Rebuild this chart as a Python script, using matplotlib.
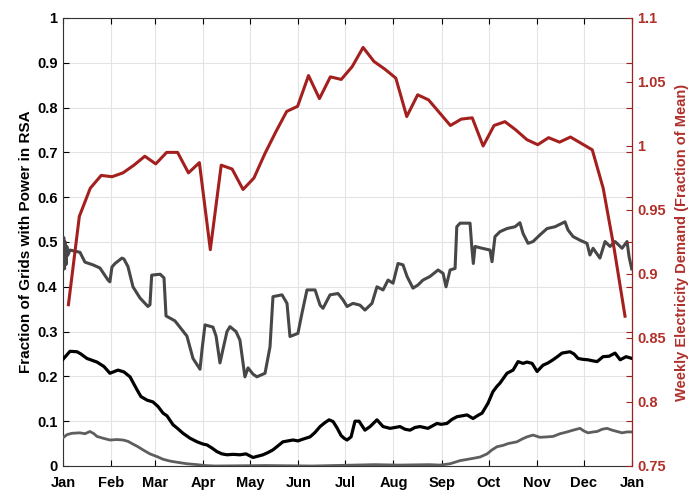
import matplotlib
matplotlib.use("Agg")
import matplotlib.pyplot as plt
import numpy as np

plt.rcParams['font.family'] = ['Liberation Sans', 'DejaVu Sans']
plt.rcParams['font.weight'] = 'bold'

# ---- month axis ----
month_days = [0, 31, 59, 90, 120, 151, 181, 212, 243, 273, 304, 334, 365]
month_labels = ['Jan', 'Feb', 'Mar', 'Apr', 'May', 'Jun', 'Jul', 'Aug', 'Sep', 'Oct', 'Nov', 'Dec', 'Jan']

# ---- weekly electricity demand (right axis), one value per week ----
demand_week = list(range(52))
demand = [0.876, 0.945, 0.967, 0.977, 0.976, 0.979, 0.985, 0.992, 0.986, 0.995,
          0.995, 0.979, 0.987, 0.919, 0.985, 0.982, 0.966, 0.975, 0.994, 1.011,
          1.027, 1.031, 1.055, 1.037, 1.054, 1.052, 1.062, 1.077, 1.066, 1.060,
          1.053, 1.023, 1.040, 1.036, 1.026, 1.016, 1.021, 1.022, 1.000, 1.016,
          1.019, 1.0125, 1.005, 1.001, 1.0065, 1.003, 1.007, 1.002, 0.997, 0.967,
          0.920, 0.867]

# ---- fraction of grids with power (left axis) ----
upper_day = [0.0, 0.5, 1.0, 1.5, 2.0, 2.5, 3.0, 4.5, 10.9, 14.1, 19.2, 23.7, 28.9, 30.1,
             31.4, 33.4, 37.8, 39.1, 41.7, 44.9, 49.4, 54.5, 55.8, 56.9, 62.3, 64.8,
             66.1, 71.8, 79.5, 83.4, 87.9, 89.2, 91.1, 96.2, 98.2, 100.7, 102.6, 105.2,
             107.1, 111.0, 113.5, 116.7, 118.7, 121.9, 124.4, 129.6, 132.8, 134.7,
             140.5, 143.7, 145.6, 150.7, 153.3, 156.5, 161.7, 164.9, 166.8, 171.3,
             176.4, 179.6, 182.2, 186.0, 190.5, 193.7, 198.2, 201.4, 205.3, 208.5,
             211.7, 214.9, 218.1, 220.7, 224.5, 227.7, 230.9, 235.4, 240.6, 243.8,
             245.7, 248.3, 251.5, 252.6, 254.7, 261.1, 262.2, 263.2, 264.3, 268.8,
             273.9, 275.2, 277.1, 280.3, 284.8, 289.9, 293.1, 295.1, 298.3, 301.5,
             306.0, 310.5, 315.6, 322.0, 323.9, 327.2, 331.6, 336.1, 338.0, 340.0,
             344.4, 347.7, 350.9, 354.1, 358.6, 361.8, 363.1, 364.8]
upper = [0.46, 0.51, 0.44, 0.50, 0.45, 0.49, 0.47, 0.482, 0.477, 0.455, 0.449, 0.442,
         0.415, 0.411, 0.444, 0.452, 0.464, 0.462, 0.445, 0.400, 0.375, 0.356, 0.360,
         0.426, 0.428, 0.420, 0.335, 0.324, 0.290, 0.240, 0.216, 0.260, 0.315, 0.310,
         0.290, 0.230, 0.260, 0.300, 0.311, 0.300, 0.281, 0.199, 0.219, 0.205, 0.199,
         0.207, 0.266, 0.378, 0.382, 0.363, 0.289, 0.296, 0.341, 0.393, 0.393, 0.359,
         0.352, 0.382, 0.385, 0.371, 0.356, 0.363, 0.359, 0.348, 0.363, 0.400, 0.393,
         0.415, 0.408, 0.452, 0.449, 0.423, 0.397, 0.404, 0.415, 0.423, 0.4375, 0.430,
         0.400, 0.4375, 0.441, 0.534, 0.542, 0.542, 0.490, 0.452, 0.490, 0.486, 0.482,
         0.456, 0.512, 0.523, 0.530, 0.534, 0.543, 0.519, 0.497, 0.501, 0.516, 0.530,
         0.534, 0.545, 0.527, 0.512, 0.504, 0.497, 0.471, 0.486, 0.464, 0.501, 0.490,
         0.501, 0.486, 0.501, 0.467, 0.440]

middle_day = [0.0, 4.5, 9.0, 11.5, 15.4, 21.8, 26.3, 30.1, 35.3, 39.1, 43.0, 47.5, 50.0,
              53.9, 57.7, 60.9, 64.2, 66.7, 70.6, 73.1, 77.0, 81.5, 86.0, 89.8, 92.4,
              95.6, 98.8, 102.0, 105.2, 109.1, 113.5, 117.4, 121.9, 125.1, 128.3, 131.5,
              134.7, 137.9, 141.1, 144.3, 147.6, 150.7, 154.0, 158.5, 161.7, 164.9,
              168.1, 170.7, 173.3, 175.8, 178.4, 180.3, 182.2, 184.8, 187.3, 189.9,
              193.7, 197.0, 201.4, 205.3, 209.8, 213.0, 216.2, 219.4, 222.6, 225.8,
              229.0, 234.1, 239.9, 242.5, 246.3, 249.5, 252.7, 256.0, 259.2, 263.0,
              266.2, 268.8, 272.6, 275.8, 278.4, 280.3, 284.8, 288.7, 291.9, 295.1,
              297.6, 300.9, 304.1, 307.9, 311.1, 314.3, 317.5, 320.1, 325.2, 327.8,
              330.4, 333.6, 336.8, 339.4, 342.6, 346.4, 350.3, 354.1, 357.4, 361.2, 365.0]
middle = [0.238, 0.256, 0.255, 0.250, 0.240, 0.232, 0.222, 0.207, 0.214, 0.210, 0.199,
          0.170, 0.155, 0.147, 0.143, 0.133, 0.118, 0.112, 0.092, 0.085, 0.073, 0.062,
          0.054, 0.049, 0.047, 0.040, 0.032, 0.027, 0.025, 0.026, 0.025, 0.027, 0.019,
          0.022, 0.025, 0.030, 0.036, 0.045, 0.054, 0.056, 0.058, 0.056, 0.060, 0.065,
          0.075, 0.088, 0.097, 0.103, 0.099, 0.085, 0.068, 0.062, 0.058, 0.065, 0.100,
          0.100, 0.080, 0.088, 0.103, 0.088, 0.084, 0.086, 0.088, 0.082, 0.080, 0.086,
          0.088, 0.084, 0.095, 0.093, 0.095, 0.104, 0.110, 0.112, 0.114, 0.106, 0.113,
          0.118, 0.140, 0.166, 0.178, 0.185, 0.207, 0.214, 0.233, 0.229, 0.232, 0.229,
          0.211, 0.225, 0.230, 0.237, 0.245, 0.252, 0.255, 0.250, 0.240, 0.238, 0.237,
          0.235, 0.233, 0.244, 0.245, 0.252, 0.237, 0.244, 0.240]

lower_day = [0.0, 2.6, 5.8, 10.9, 14.1, 17.3, 19.9, 21.8, 25.7, 30.1, 34.6, 38.5, 41.7,
             44.3, 48.1, 51.3, 55.8, 60.3, 64.2, 68.6, 73.8, 79.5, 86.0, 91.1, 97.6,
             130.0, 160.0, 200.0, 215.0, 235.0, 242.0, 248.3, 254.7, 263.0, 267.5,
             272.0, 275.2, 278.4, 282.3, 285.5, 291.2, 294.4, 297.6, 301.5, 306.0,
             310.5, 314.3, 318.8, 323.3, 327.2, 331.6, 334.2, 336.8, 340.0, 342.6,
             345.8, 349.0, 352.2, 355.4, 358.6, 361.8, 365.0]
lower = [0.063, 0.070, 0.073, 0.074, 0.072, 0.077, 0.072, 0.066, 0.062, 0.058, 0.059,
         0.058, 0.055, 0.050, 0.043, 0.036, 0.027, 0.021, 0.015, 0.011, 0.008, 0.005,
         0.003, 0.001, 0.000, 0.001, 0.000, 0.003, 0.002, 0.003, 0.002, 0.005, 0.012,
         0.017, 0.020, 0.027, 0.036, 0.043, 0.046, 0.050, 0.054, 0.060, 0.065, 0.069,
         0.064, 0.065, 0.066, 0.072, 0.076, 0.080, 0.084, 0.078, 0.074, 0.076, 0.077,
         0.082, 0.084, 0.080, 0.077, 0.074, 0.076, 0.076]

RED = '#a3201f'
RED_TXT = '#b0302a'

fig = plt.figure(figsize=(6.95, 4.94), dpi=100)
ax = fig.add_axes([0.0906, 0.0567, 0.8188, 0.9069])
ax.set_xlim(0, 365)
ax.set_ylim(0, 1)

ax.plot(upper_day, upper, color='#474747', lw=2.2, zorder=3)
ax.plot(middle_day, middle, color='#000000', lw=2.3, zorder=3)
ax.plot(lower_day, lower, color='#5e5e5e', lw=2.0, zorder=3)

ax.set_xticks(month_days)
ax.set_xticklabels(month_labels)
ax.set_yticks(np.arange(0, 1.01, 0.1))
ax.set_yticklabels(['0', '0.1', '0.2', '0.3', '0.4', '0.5', '0.6', '0.7', '0.8', '0.9', '1'])
ax.grid(True, color='#e3e3e3', lw=0.8)
ax.set_axisbelow(True)
ax.tick_params(axis='both', direction='in', labelsize=10.5, length=4, width=0.8,
               top=True)
ax.tick_params(axis='x', pad=7)
ax.tick_params(axis='y', right=False, pad=4)
for lab in ax.get_xticklabels() + ax.get_yticklabels():
    lab.set_fontweight('bold')
ax.set_ylabel('Fraction of Grids with Power in RSA', fontsize=11, fontweight='bold',
              labelpad=3)
for s in ['left', 'top', 'bottom']:
    ax.spines[s].set_color('#333333')
    ax.spines[s].set_linewidth(0.8)

ax2 = ax.twinx()
ax2.set_ylim(0.75, 1.1)
ax2.plot([(w * 7 + 3.5) for w in demand_week], demand, color=RED, lw=2.2, zorder=4)
ax2.set_yticks([0.75, 0.8, 0.85, 0.9, 0.95, 1.0, 1.05, 1.1])
ax2.set_yticklabels(['0.75', '0.8', '0.85', '0.9', '0.95', '1', '1.05', '1.1'])
ax2.set_yticks([0.75 + 0.35 * f for f in np.arange(0.1, 0.95, 0.1)], minor=True)
ax2.tick_params(axis='y', which='both', direction='in', colors=RED, labelcolor=RED_TXT,
                labelsize=10.5, length=4, width=0.8)
for lab in ax2.get_yticklabels():
    lab.set_fontweight('bold')
ax2.spines['right'].set_color(RED)
ax2.spines['right'].set_linewidth(0.8)
for s in ['left', 'top', 'bottom']:
    ax2.spines[s].set_visible(False)
ax2.set_ylabel('Weekly Electricity Demand (Fraction of Mean)', fontsize=10.5,
               fontweight='bold', color=RED_TXT, labelpad=7)

fig.savefig('out.png', dpi=100)
